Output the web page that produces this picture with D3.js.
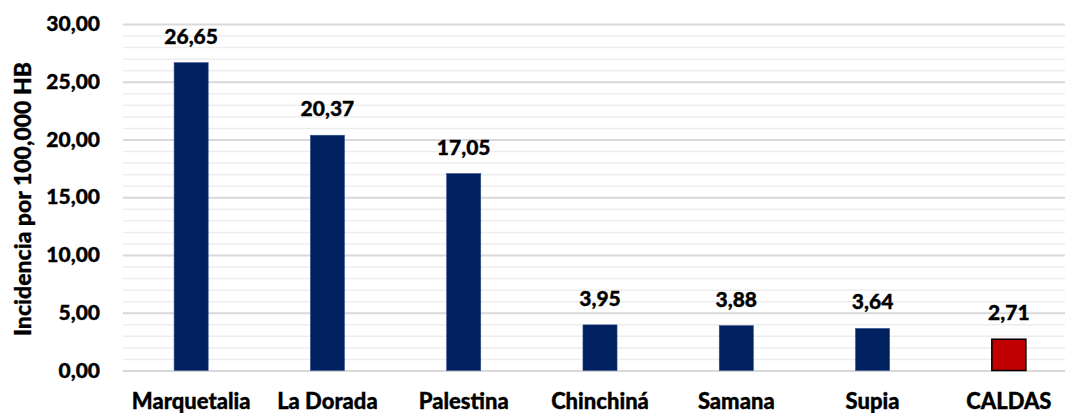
<!DOCTYPE html>
<html>
<head>
<meta charset="utf-8">
<script src="https://cdn.jsdelivr.net/npm/d3@7"></script>
<style>
  body { margin: 0; background: #fff; }
  #chart { width: 1065px; height: 413px; }
  text { font-family: Lato, "Open Sans", sans-serif; font-weight: 900; fill: #000; stroke: #000; stroke-width: 0.35px; }
</style>
</head>
<body>
<div id="chart"><svg width="1065" height="413"></svg></div>
<script>
// data
const categories = ["Marquetalia", "La Dorada", "Palestina", "Chinchiná", "Samana", "Supia", "CALDAS"];
const values = [26.65, 20.37, 17.05, 3.95, 3.88, 3.64, 2.71];
const highlight = ["CALDAS"];
const yTicks = [0, 5, 10, 15, 20, 25, 30];

/***** BASIC SETUP *****/
const width = 1065, height = 413;
const margin = {top: 24, left: 123, right: -12, bottom: 42.5};
const plotWidth = width - margin.left - margin.right;
const plotHeight = height - margin.top - margin.bottom;

const svg = d3.select("#chart").select("svg");
const fmt = v => d3.format(".2f")(v).replace(".", ",");

/***** SCALES *****/
const xScale = d3.scaleBand()
    .domain(categories)
    .range([0, plotWidth])
    .padding(0);

const yScale = d3.scaleLinear()
    .domain([0, 30])
    .range([plotHeight, 0]);

const plot = svg.append("g")
    .attr("transform", `translate(${margin.left}, ${margin.top})`);

/***** GRID *****/
// minor lines every unit, major every 5
plot.append("g")
    .attr("class", "grid-minor")
    .call(d3.axisLeft(yScale).tickValues(d3.range(1, 30).filter(d => d % 5 !== 0)).tickSize(-plotWidth).tickFormat(""))
    .call(g => g.select(".domain").remove())
    .call(g => g.selectAll("line").attr("stroke", "#EDEDED").attr("stroke-width", 1.5));

plot.append("g")
    .attr("class", "grid-major")
    .call(d3.axisLeft(yScale).tickValues(yTicks).tickSize(-plotWidth).tickFormat(""))
    .call(g => g.select(".domain").remove())
    .call(g => g.selectAll("line").attr("stroke", "#D9D9D9").attr("stroke-width", 2));

/***** Y AXIS LABELS *****/
plot.append("g")
    .call(d3.axisLeft(yScale).tickValues(yTicks).tickSize(0).tickPadding(23).tickFormat(fmt))
    .call(g => g.select(".domain").remove())
    .call(g => g.selectAll("text").style("font-size", "21px").attr("fill", "#000"));

/***** BARS *****/
const barW = xScale.bandwidth() * 0.25;

plot.selectAll(".bar")
    .data(values)
    .enter()
    .append("rect")
    .attr("class", "bar")
    .attr("x", (d, i) => xScale(categories[i]) + (xScale.bandwidth() - barW) / 2)
    .attr("y", d => yScale(d))
    .attr("width", barW)
    .attr("height", d => plotHeight - yScale(d))
    .attr("fill", (d, i) => highlight.includes(categories[i]) ? "#C00000" : "#002060")
    .attr("stroke", (d, i) => highlight.includes(categories[i]) ? "#000" : "#2F4F8F")
    .attr("stroke-width", (d, i) => highlight.includes(categories[i]) ? 1.5 : 0.6);

/***** VALUE LABELS *****/
plot.selectAll(".valueLabel")
    .data(values)
    .enter()
    .append("text")
    .attr("class", "valueLabel")
    .attr("x", (d, i) => xScale(categories[i]) + xScale.bandwidth() / 2)
    .attr("y", d => yScale(d) - 19)
    .attr("text-anchor", "middle")
    .style("font-size", "21px")
    .text(fmt);

/***** CATEGORY LABELS *****/
plot.selectAll(".catLabel")
    .data(categories)
    .enter()
    .append("text")
    .attr("class", "catLabel")
    .attr("x", d => xScale(d) + xScale.bandwidth() / 2)
    .attr("y", plotHeight + 38)
    .attr("text-anchor", "middle")
    .style("font-size", "22px")
    .text(d => d);

/***** AXIS TITLE *****/
svg.append("text")
    .attr("transform", `translate(31, 199) rotate(-90)`)
    .attr("text-anchor", "middle")
    .style("font-size", "23px")
    .text("Incidencia por 100,000 HB");
</script>
</body>
</html>
